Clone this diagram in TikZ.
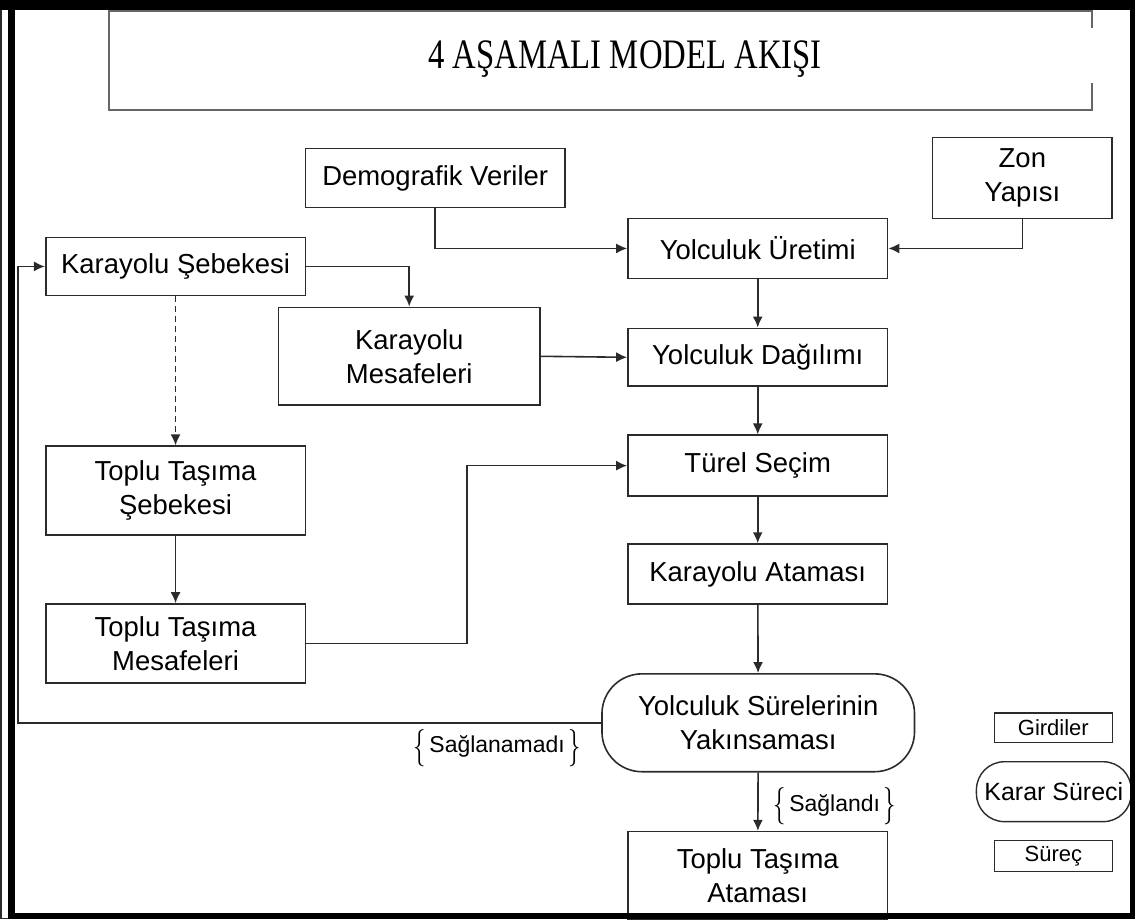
\documentclass[tikz,border=0pt]{standalone}
\usepackage{fontspec}
\setmainfont{Liberation Sans}
\newfontfamily\titlefont{Liberation Serif}
\usepackage{graphicx}
\usepackage{tikz}
\usetikzlibrary{arrows.meta, shapes}

\definecolor{edge}{HTML}{2B2B2B}

\newcommand{\lbrc}{\raisebox{-0.2em}{\scalebox{1}[1.5]{$\{$}}}
\newcommand{\rbrc}{\raisebox{-0.2em}{\scalebox{1}[1.5]{$\}$}}}

\begin{document}
\begin{tikzpicture}[x=1pt, y=-1pt,
  box/.style={rectangle, draw=edge, line width=1.6pt, fill=white,
    align=center, inner sep=1pt, font=\fontsize{27.5}{34}\selectfont},
  %
  decision/.style={box, rounded corners=40pt},
  %
  legend/.style={rectangle, draw=edge, line width=1.4pt, fill=white,
    align=center, inner sep=1pt, font=\fontsize{22}{26}\selectfont},
  %
  tag/.style={inner sep=0pt, font=\fontsize{23}{26}\selectfont},
  %
  arr/.style={-{Latex[length=11pt, width=10pt]}}
  ]

  \tikzset{every path/.style={line width=1.6pt, draw=edge}}

  \useasboundingbox (0,0) rectangle (1135,919);

  % title
  \draw [line width=1.8pt, draw=black!60] (1093,27) -- (1093,10) -- (108,10)
    -- (108,109) -- (1093,109) -- (1093,82);
  \node (title) at (625,58)
    {\titlefont\fontsize{42}{42}\selectfont\scalebox{0.78}[1]{4 AŞAMALI MODEL AKIŞI}};

  \begin{scope}
    %%%%%%%%%%%%%%%%%%%%%%%%%%%%%%%
    \node [box, minimum width=260pt, minimum height=59pt] (demo) at (435,177.5) {Demografik Veriler};
    \node [box, minimum width=180pt, minimum height=81pt] (zon) at (1023,177.5) {Zon\\Yapısı};
    %%%%%%%%%%%%%%%%%%%%%%%%%%%%%%%
    \node [box, minimum width=260pt, minimum height=58pt] (karSebeke) at (175,266) {Karayolu Şebekesi};
    \node [box, minimum width=262pt, minimum height=98pt] (karMesafe) at (409,356) {Karayolu\\Mesafeleri};
    \node [box, minimum width=260pt, minimum height=89pt] (topSebeke) at (175,490.5) {Toplu Taşıma\\Şebekesi};
    \node [box, minimum width=260pt, minimum height=79pt] (topMesafe) at (175,643.5) {Toplu Taşıma\\Mesafeleri};
    %%%%%%%%%%%%%%%%%%%%%%%%%%%%%%%
    \node [box, minimum width=260pt, minimum height=60pt] (uretim) at (758,248) {Yolculuk Üretimi};
    \node [box, minimum width=260pt, minimum height=58pt] (dagilim) at (758,357) {Yolculuk Dağılımı};
    \node [box, minimum width=260pt, minimum height=61pt] (turel) at (758,465.5) {Türel Seçim};
    \node [box, minimum width=260pt, minimum height=60pt] (karAtama) at (758,574) {Karayolu Ataması};
    \node [decision, minimum width=313pt, minimum height=98pt] (yakinsama) at (758.5,723) {Yolculuk Sürelerinin\\Yakınsaması};
    \node [box, minimum width=260pt, minimum height=88pt] (topAtama) at (758,876) {Toplu Taşıma\\Ataması};
    %%%%%%%%%%%%%%%%%%%%%%%%%%%%%%%
    \node [legend, minimum width=118pt, minimum height=30pt] (lgGirdi) at (1054,728) {Girdiler};
    \node [legend, rounded corners=28pt, minimum width=155pt, minimum height=60pt,
      font=\fontsize{25}{28}\selectfont] (lgKarar) at (1054.5,792) {Karar Süreci};
    \node [legend, minimum width=118pt, minimum height=31pt] (lgSurec) at (1054,856.5) {Süreç};
    %%%%%%%%%%%%%%%%%%%%%%%%%%%%%%%
    \coordinate (geri) at (17,723);
  \end{scope}

  \begin{scope}
    \draw [arr] (demo.south) |- (uretim.west);
    \draw [arr] (zon.south) |- (uretim.east);
    \draw [arr] (karSebeke.east) -| (karMesafe.north);
    \draw [arr] (karMesafe.east) -- (dagilim.west);
    \draw [arr] (uretim) -- (dagilim);
    \draw [arr] (dagilim) -- (turel);
    \draw [arr] (turel) -- (karAtama);
    \draw [arr] (karAtama) -- (yakinsama);
    \draw [arr] (yakinsama) -- (topAtama);
    \draw [arr] (yakinsama.west) -- (geri) |- (karSebeke.west);
    \draw [arr, dash pattern=on 6pt off 4pt] (karSebeke) -- (topSebeke);
    \draw [arr] (topSebeke) -- (topMesafe);
    \draw [arr] (topMesafe.east) -- ++(161,0) |- (turel.west);
  \end{scope}

  \node [tag] (saglanamadi) at (497,748) {\lbrc\,Sağlanamadı\,\rbrc};
  \node [tag] (saglandi) at (835,807) {\lbrc\,Sağlandı\,\rbrc};

  % page frame
  \fill [black] (0,0) rectangle (1135,8);
  \fill [black] (8,0) rectangle (13,919);
  \fill [black] (1132,0) rectangle (1135,919);
  \fill [black] (8,914) rectangle (1135,919);

\end{tikzpicture}
\end{document}
